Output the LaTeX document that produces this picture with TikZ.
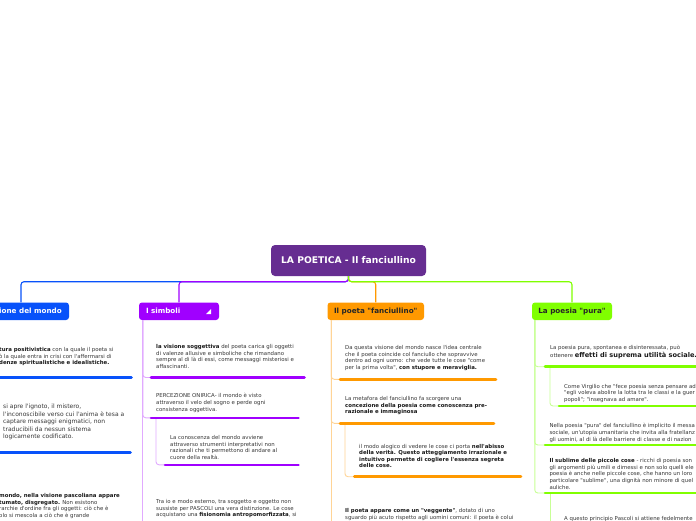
\documentclass[tikz,border=0pt]{standalone}
\usepackage{fontspec}
\setmainfont{DejaVu Sans}[Ligatures=TeXOff]
\definecolor{croot}{RGB}{102,45,145}
\definecolor{cblue}{RGB}{8,82,250}
\definecolor{cpurp}{RGB}{160,0,255}
\definecolor{corange}{RGB}{255,153,0}
\definecolor{cgreen}{RGB}{128,255,0}
\definecolor{lpurp}{RGB}{225,170,255}
\definecolor{lorange}{RGB}{255,212,150}
\definecolor{lgreen}{RGB}{200,255,150}
\definecolor{txtgray}{RGB}{55,55,55}
\newcommand{\bld}[1]{\textbf{\color{black!90}#1}}
\begin{document}
\begin{tikzpicture}[x=1pt,y=-1pt,
  txt/.style={anchor=north west, inner sep=0pt, align=left, font=\fontsize{5.4}{6.6}\selectfont, text=txtgray},
  bigtxt/.style={txt, font=\fontsize{6}{7.4}\selectfont},
  branchbox/.style={rounded corners=3pt, minimum height=17.5pt, inner sep=0pt, font=\fontsize{7.2}{8}\selectfont\bfseries},
  bline/.style={line width=1.1pt, rounded corners=3pt},
  conn/.style={line width=0.9pt, rounded corners=3pt},
  uline/.style={line width=2.6pt, line cap=round}
]
\useasboundingbox[fill=white] (0,0) rectangle (696,520);

% root
\node[rounded corners=4pt, fill=croot, text=white, minimum width=155pt, minimum height=31pt, inner sep=0pt, font=\fontsize{9.2}{10}\selectfont\bfseries] (root) at (348.5,260.5) {LA POETICA - Il fanciullino};

% main branches
\node[branchbox, fill=cblue, minimum width=96pt] (vis) at (21,311.25) {};
\node[branchbox, text=white, anchor=east] (vislbl) at (62,311.25) {La visione del mondo};
\node[branchbox, fill=cpurp, text=white, minimum width=80pt, text width=66pt, align=left] (simb) at (179,311.25) {I simboli};
\node[branchbox, fill=corange, text=black!85, minimum width=96.5pt] (fanc) at (375.75,311.25) {Il poeta "fanciullino"};
\node[branchbox, fill=cgreen, text=black!85, minimum width=80pt] (pura) at (572,311.25) {La poesia "pura"};
\fill[white] (206,314) -- (211,314) -- (211,309) -- cycle;

\draw[bline, cblue] (root.south) -- ++(0,5.5) -| (vis.north);
\draw[bline, cpurp] (root.south) -- ++(0,5.5) -| (simb.north);
\draw[bline, corange] (root.south) -- ++(0,5.5) -| (fanc.north);
\draw[bline, cgreen] (root.south) -- ++(0,5.5) -| (pura.north);

% ---------- blue ----------
\node[txt] (b1) at (-1,347.4) {\bld{tura positivistica} con la quale il poeta si\\ò la quale entra in crisi con l'affermarsi di\\\bld{denze spiritualistiche e idealistiche.}};
\coordinate (ub1s) at (-5,377.5); \coordinate (ub1e) at (131.5,377.5);
\draw[uline, cblue] (ub1s) -- (ub1e);
\node[bigtxt] (b2) at (3,404.2) {si apre l'ignoto, il mistero,\\l'inconoscibile verso cui l'anima è tesa a\\captare messaggi enigmatici, non\\traducibili da nessun sistema\\logicamente codificato.};
\coordinate (ub2s) at (-5,452.5); \coordinate (ub2e) at (130.5,452.5);
\draw[uline, cblue] (ub2s) -- (ub2e);
\node[txt] (b3) at (-1,493.4) {\bld{mondo, nella visione pascoliana appare}\\\bld{tumato, disgregato.} Non esistono\\rarchie d'ordine fra gli oggetti: ciò che è\\olo si mescola a ciò che è grande};

% ---------- purple ----------
\coordinate (up1s) at (151,377.5); \coordinate (up1e) at (304.5,377.5);
\coordinate (up2s) at (151,417.8); \coordinate (up2e) at (298.5,417.8);
\coordinate (up2k) at (156,417.8);
\coordinate (up21s) at (165,464.8); \coordinate (up21e) at (298.5,464.8);
\draw[conn, lpurp] ([xshift=4pt]simb.south west) -- ++(0,215);
\draw[conn, lpurp] ([xshift=4pt]simb.south west) |- (up1s);
\draw[conn, lpurp] ([xshift=4pt]simb.south west) |- (up2s);
\draw[conn, lpurp] (up2k) |- (up21s);
\draw[uline, cpurp] (up1s) -- (up1e);
\draw[uline, cpurp] (up2s) -- (up2e);
\draw[uline, cpurp] (up21s) -- (up21e);
\node[txt] (p1) at (156,344.4) {\bld{la visione soggettiva} del poeta carica gli oggetti\\di valenze allusive e simboliche che rimandano\\sempre al di là di essi, come messaggi misteriosi e\\affascinanti.};
\node[txt] (p2) at (156,393.4) {PERCEZIONE ONIRICA- il mondo è visto\\attraverso il velo del sogno e perde ogni\\consistenza oggettiva.};
\node[txt] (p21) at (170,435.4) {La conoscenza del mondo avviene\\attraverso strumenti interpretativi non\\razionali che ti permettono di andare al\\cuore della realtà.};
\node[txt] (p3) at (156,499.4) {Tra io e modo esterno, tra soggetto e oggetto non\\sussiste per PASCOLI una vera distinzione. Le cose\\acquistano una \bld{fisionomia antropomorfizzata}, si};

% ---------- orange ----------
\coordinate (uo1s) at (340,379.3); \coordinate (uo1e) at (496,379.3);
\coordinate (uo2s) at (340,423.3); \coordinate (uo2e) at (494,423.3);
\coordinate (uo2k) at (345,423.3);
\coordinate (uo21s) at (354.3,476.7); \coordinate (uo21e) at (521,476.7);
\draw[conn, lorange] ([xshift=4pt]fanc.south west) -- ++(0,215);
\draw[conn, lorange] ([xshift=4pt]fanc.south west) |- (uo1s);
\draw[conn, lorange] ([xshift=4pt]fanc.south west) |- (uo2s);
\draw[conn, lorange] (uo2k) |- (uo21s);
\draw[uline, corange] (uo1s) -- (uo1e);
\draw[uline, corange] (uo2s) -- (uo2e);
\draw[uline, corange] (uo21s) -- (uo21e);
\node[txt] (o1) at (345,345.4) {Da questa visione del mondo nasce l'idea centrale\\che il poeta coincide col fanciullo che sopravvive\\dentro ad ogni uomo: che vede tutte le cose "come\\per la prima volta", \bld{con stupore e meraviglia.}};
\node[txt] (o2) at (345,396.4) {La metafora del fanciullino fa scorgere una\\\bld{concezione della poesia come conoscenza pre-}\\\bld{razionale e immaginosa}};
\node[txt] (o21) at (359,443.7) {il modo alogico di vedere le cose ci porta \bld{nell'abisso}\\\bld{della verità. Questo atteggiamento irrazionale e}\\\bld{intuitivo permette di cogliere l'essenza segreta}\\\bld{delle cose.}};
\node[txt] (o3) at (345,508.4) {\bld{Il poeta appare come un "veggente"}, dotato di uno\\sguardo più acuto rispetto agli uomini comuni: il poeta è colui};

% ---------- green ----------
\coordinate (ug1s) at (545,366.7); \coordinate (ug1e) at (700,366.7);
\coordinate (ug1k) at (550,366.7);
\coordinate (ug11s) at (559,406); \coordinate (ug11e) at (700,406);
\coordinate (ug2s) at (545,445); \coordinate (ug2e) at (700,445);
\coordinate (ug3s) at (545,493); \coordinate (ug3e) at (700,493);
\coordinate (ug3k) at (550,493); \coordinate (ug3b) at (550,526);
\draw[conn, lgreen] ([xshift=3pt]pura.south west) |- (ug1s);
\draw[conn, lgreen] ([xshift=3pt]pura.south west) |- (ug2s);
\draw[conn, lgreen] ([xshift=3pt]pura.south west) |- (ug3s);
\draw[conn, lgreen] (ug1k) |- (ug11s);
\draw[conn, lgreen] (ug3k) -- (ug3b);
\draw[uline, cgreen] (ug1s) -- (ug1e);
\draw[uline, cgreen] (ug11s) -- (ug11e);
\draw[uline, cgreen] (ug2s) -- (ug2e);
\draw[uline, cgreen] (ug3s) -- (ug3e);
\node[txt, font=\fontsize{5.4}{8}\selectfont] (g1) at (550,344.7) {La poesia pura, spontanea e disinteressata, può\\ottenere {\fontsize{6.6}{8}\selectfont\bld{effetti di suprema utilità sociale.}}};
\node[txt] (g11) at (564,384) {Come Virgilio che "fece poesia senza pensare ad\\"egli voleva abolire la lotta tra le classi e la guer\\popoli"; "insegnava ad amare".};
\node[txt] (g2) at (549.3,423.4) {Nella poesia "pura" del fanciullino è implicito il messa\\sociale, un'utopia umanitaria che invita alla fratellanz\\gli uomini, al di là delle barriere di classe e di nazion};
\node[txt] (g3) at (549.3,458.4) {\bld{Il sublime delle piccole cose} - ricchi di poesia son\\gli argomenti più umili e dimessi e non solo quelli ele\\poesia è anche nelle piccole cose, che hanno un loro\\particolare "sublime", una dignità non minore di quel\\auliche.};
\node[txt] (g31) at (564,516.4) {A questo principio Pascoli si attiene fedelmente};
\end{tikzpicture}
\end{document}
